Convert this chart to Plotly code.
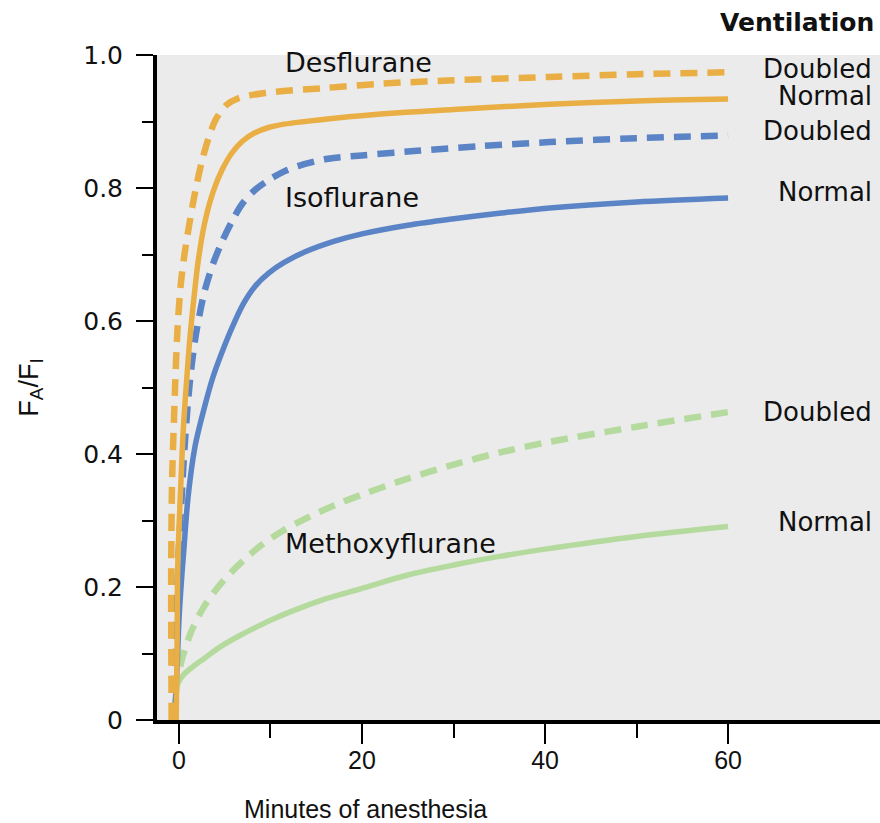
import plotly.graph_objects as go

# ---- data ----
des_dbl_x = [-0.8, -0.85, -0.75, -0.55, -0.4, -0.15, 0.2, 0.6, 1.0, 1.6, 2.5, 3.4, 4.1, 5.2, 6.5, 9.4, 15.6, 22.3, 30, 40.5, 50, 60]
des_dbl_y = [0.0, 0.22, 0.36, 0.45, 0.51, 0.59, 0.655, 0.70, 0.735, 0.782, 0.84, 0.882, 0.905, 0.925, 0.935, 0.943, 0.95, 0.957, 0.962, 0.967, 0.971, 0.974]

des_nrm_x = [-0.3, -0.2, -0.15, 0.0, 0.22, 0.47, 0.84, 1.2, 1.6, 2.1, 2.8, 3.75, 4.7, 5.8, 6.9, 8.3, 9.8, 11.5, 13.8, 17, 24, 30, 40.5, 50, 60]
des_nrm_y = [0.0, 0.12, 0.22, 0.286, 0.36, 0.436, 0.511, 0.575, 0.63, 0.69, 0.747, 0.795, 0.827, 0.853, 0.87, 0.883, 0.891, 0.896, 0.9, 0.905, 0.913, 0.918, 0.926, 0.931, 0.934]

iso_dbl_x = [-0.6, -0.3, 0.0, 0.3, 0.66, 1.2, 1.75, 2.3, 2.8, 3.75, 4.7, 5.8, 6.9, 8.3, 9.8, 11.5, 13, 16.3, 20, 26, 33, 40.5, 50, 60]
iso_dbl_y = [0.0, 0.15, 0.26, 0.336, 0.42, 0.51, 0.571, 0.613, 0.645, 0.687, 0.719, 0.75, 0.776, 0.797, 0.812, 0.825, 0.833, 0.844, 0.849, 0.856, 0.863, 0.869, 0.875, 0.879]

iso_nrm_x = [-0.5, -0.2, 0.0, 0.3, 0.5, 1.0, 1.75, 2.8, 3.7, 4.7, 5.8, 7.0, 8.3, 9.8, 11.5, 13.8, 17, 20, 25, 29.6, 35, 40.5, 50, 60]
iso_nrm_y = [0.0, 0.08, 0.15, 0.215, 0.25, 0.336, 0.411, 0.471, 0.515, 0.553, 0.59, 0.625, 0.652, 0.672, 0.688, 0.704, 0.72, 0.731, 0.744, 0.753, 0.762, 0.77, 0.779, 0.785]

met_dbl_x = [-0.6, -0.4, 0.3, 1.4, 2.8, 4.7, 6.9, 9, 11.4, 14, 17, 20, 25, 30, 35, 40, 50, 60]
met_dbl_y = [0.0, 0.04, 0.09, 0.135, 0.172, 0.207, 0.238, 0.263, 0.285, 0.304, 0.323, 0.339, 0.363, 0.384, 0.402, 0.417, 0.441, 0.463]

met_nrm_x = [-0.8, -0.4, -0.1, 0.5, 1.5, 2.8, 4.5, 6.5, 8.5, 10.5, 13, 16, 20, 25, 30, 35, 40, 50, 60]
met_nrm_y = [0.0, 0.03, 0.055, 0.068, 0.08, 0.093, 0.11, 0.126, 0.14, 0.153, 0.167, 0.182, 0.198, 0.218, 0.233, 0.246, 0.257, 0.276, 0.291]

x_ticks = [0, 20, 40, 60]
x_minor = [10, 30, 50]
y_ticks = [0, 0.2, 0.4, 0.6, 0.8, 1.0]
y_ticktext = ["0", "0.2", "0.4", "0.6", "0.8", "1.0"]
y_minor = [0.1, 0.3, 0.5, 0.7, 0.9]

drug_labels = ["Desflurane", "Isoflurane", "Methoxyflurane"]
drug_label_pos = [(11.4, 0.989), (11.4, 0.785), (11.4, 0.265)]
vent_labels = ["Doubled", "Normal", "Doubled", "Normal", "Doubled", "Normal"]
vent_label_y = [0.979, 0.938, 0.886, 0.794, 0.463, 0.298]

ORANGE = "#E9AF45"
BLUE = "#5B84C6"
GREEN = "#B5DA9E"
FONT = "Liberation Sans, Arial, sans-serif"
WIDE = "DejaVu Sans, sans-serif"
DASH = "17px,10px"
INK = "#111"

fig = go.Figure()
series = [
    (met_nrm_x, met_nrm_y, GREEN, "solid", 5.5),
    (met_dbl_x, met_dbl_y, GREEN, DASH, 6.5),
    (iso_nrm_x, iso_nrm_y, BLUE, "solid", 5.5),
    (iso_dbl_x, iso_dbl_y, BLUE, DASH, 6.5),
    (des_nrm_x, des_nrm_y, ORANGE, "solid", 5.5),
    (des_dbl_x, des_dbl_y, ORANGE, DASH, 6.5),
]
for xs, ys, c, d, w in series:
    fig.add_trace(go.Scatter(x=xs, y=ys, mode="lines",
                             line=dict(color=c, dash=d, width=w, shape="spline", smoothing=0.9),
                             cliponaxis=False, hoverinfo="skip"))

for txt, (ax, ay) in zip(drug_labels, drug_label_pos):
    fig.add_annotation(x=ax, y=ay, text=txt, showarrow=False, xanchor="left", yanchor="middle",
                       font=dict(family=WIDE, size=27, color=INK))

for txt, ay in zip(vent_labels, vent_label_y):
    fig.add_annotation(x=75.9, y=ay, text=txt, showarrow=False, xanchor="right", yanchor="middle",
                       font=dict(family=WIDE, size=26, color=INK))

fig.add_annotation(xref="paper", yref="paper", x=0.994, y=1.0496, text="<b>Ventilation</b>",
                   showarrow=False, xanchor="right", yanchor="middle",
                   font=dict(family=WIDE, size=25, color=INK))

fig.add_annotation(xref="paper", yref="paper", x=0.289, y=-0.134, text="Minutes of anesthesia",
                   showarrow=False, xanchor="center", yanchor="middle",
                   font=dict(family=FONT, size=25, color=INK))

fig.update_layout(
    width=880, height=823,
    margin=dict(l=157, r=0, t=55, b=103),
    plot_bgcolor="#EBEBEB", paper_bgcolor="white",
    showlegend=False,
    font=dict(family=FONT, color=INK),
)
fig.update_xaxes(
    range=[-2.4, 76.6], tickvals=x_ticks, ticks="outside", ticklen=20, tickwidth=2,
    tickcolor="black", showline=True, linewidth=4, linecolor="black", showgrid=False,
    zeroline=False, tickfont=dict(size=25, family=FONT, color=INK), ticklabelstandoff=-5,
    minor=dict(tickvals=x_minor, ticks="outside", ticklen=14, tickwidth=2, tickcolor="black", showgrid=False),
)
fig.update_yaxes(
    range=[0, 1], tickvals=y_ticks, ticktext=y_ticktext, ticks="outside", ticklen=17, tickwidth=2,
    tickcolor="black", showline=True, linewidth=4, linecolor="black", showgrid=False,
    zeroline=False, tickfont=dict(size=25, family=WIDE, color=INK), ticklabelstandoff=8,
    minor=dict(tickvals=y_minor, ticks="outside", ticklen=11, tickwidth=2, tickcolor="black", showgrid=False),
    title=dict(text="F<sub>A</sub>/F<sub>I</sub>", font=dict(size=27, family=FONT, color=INK), standoff=38),
)

fig.write_html("out.html")
